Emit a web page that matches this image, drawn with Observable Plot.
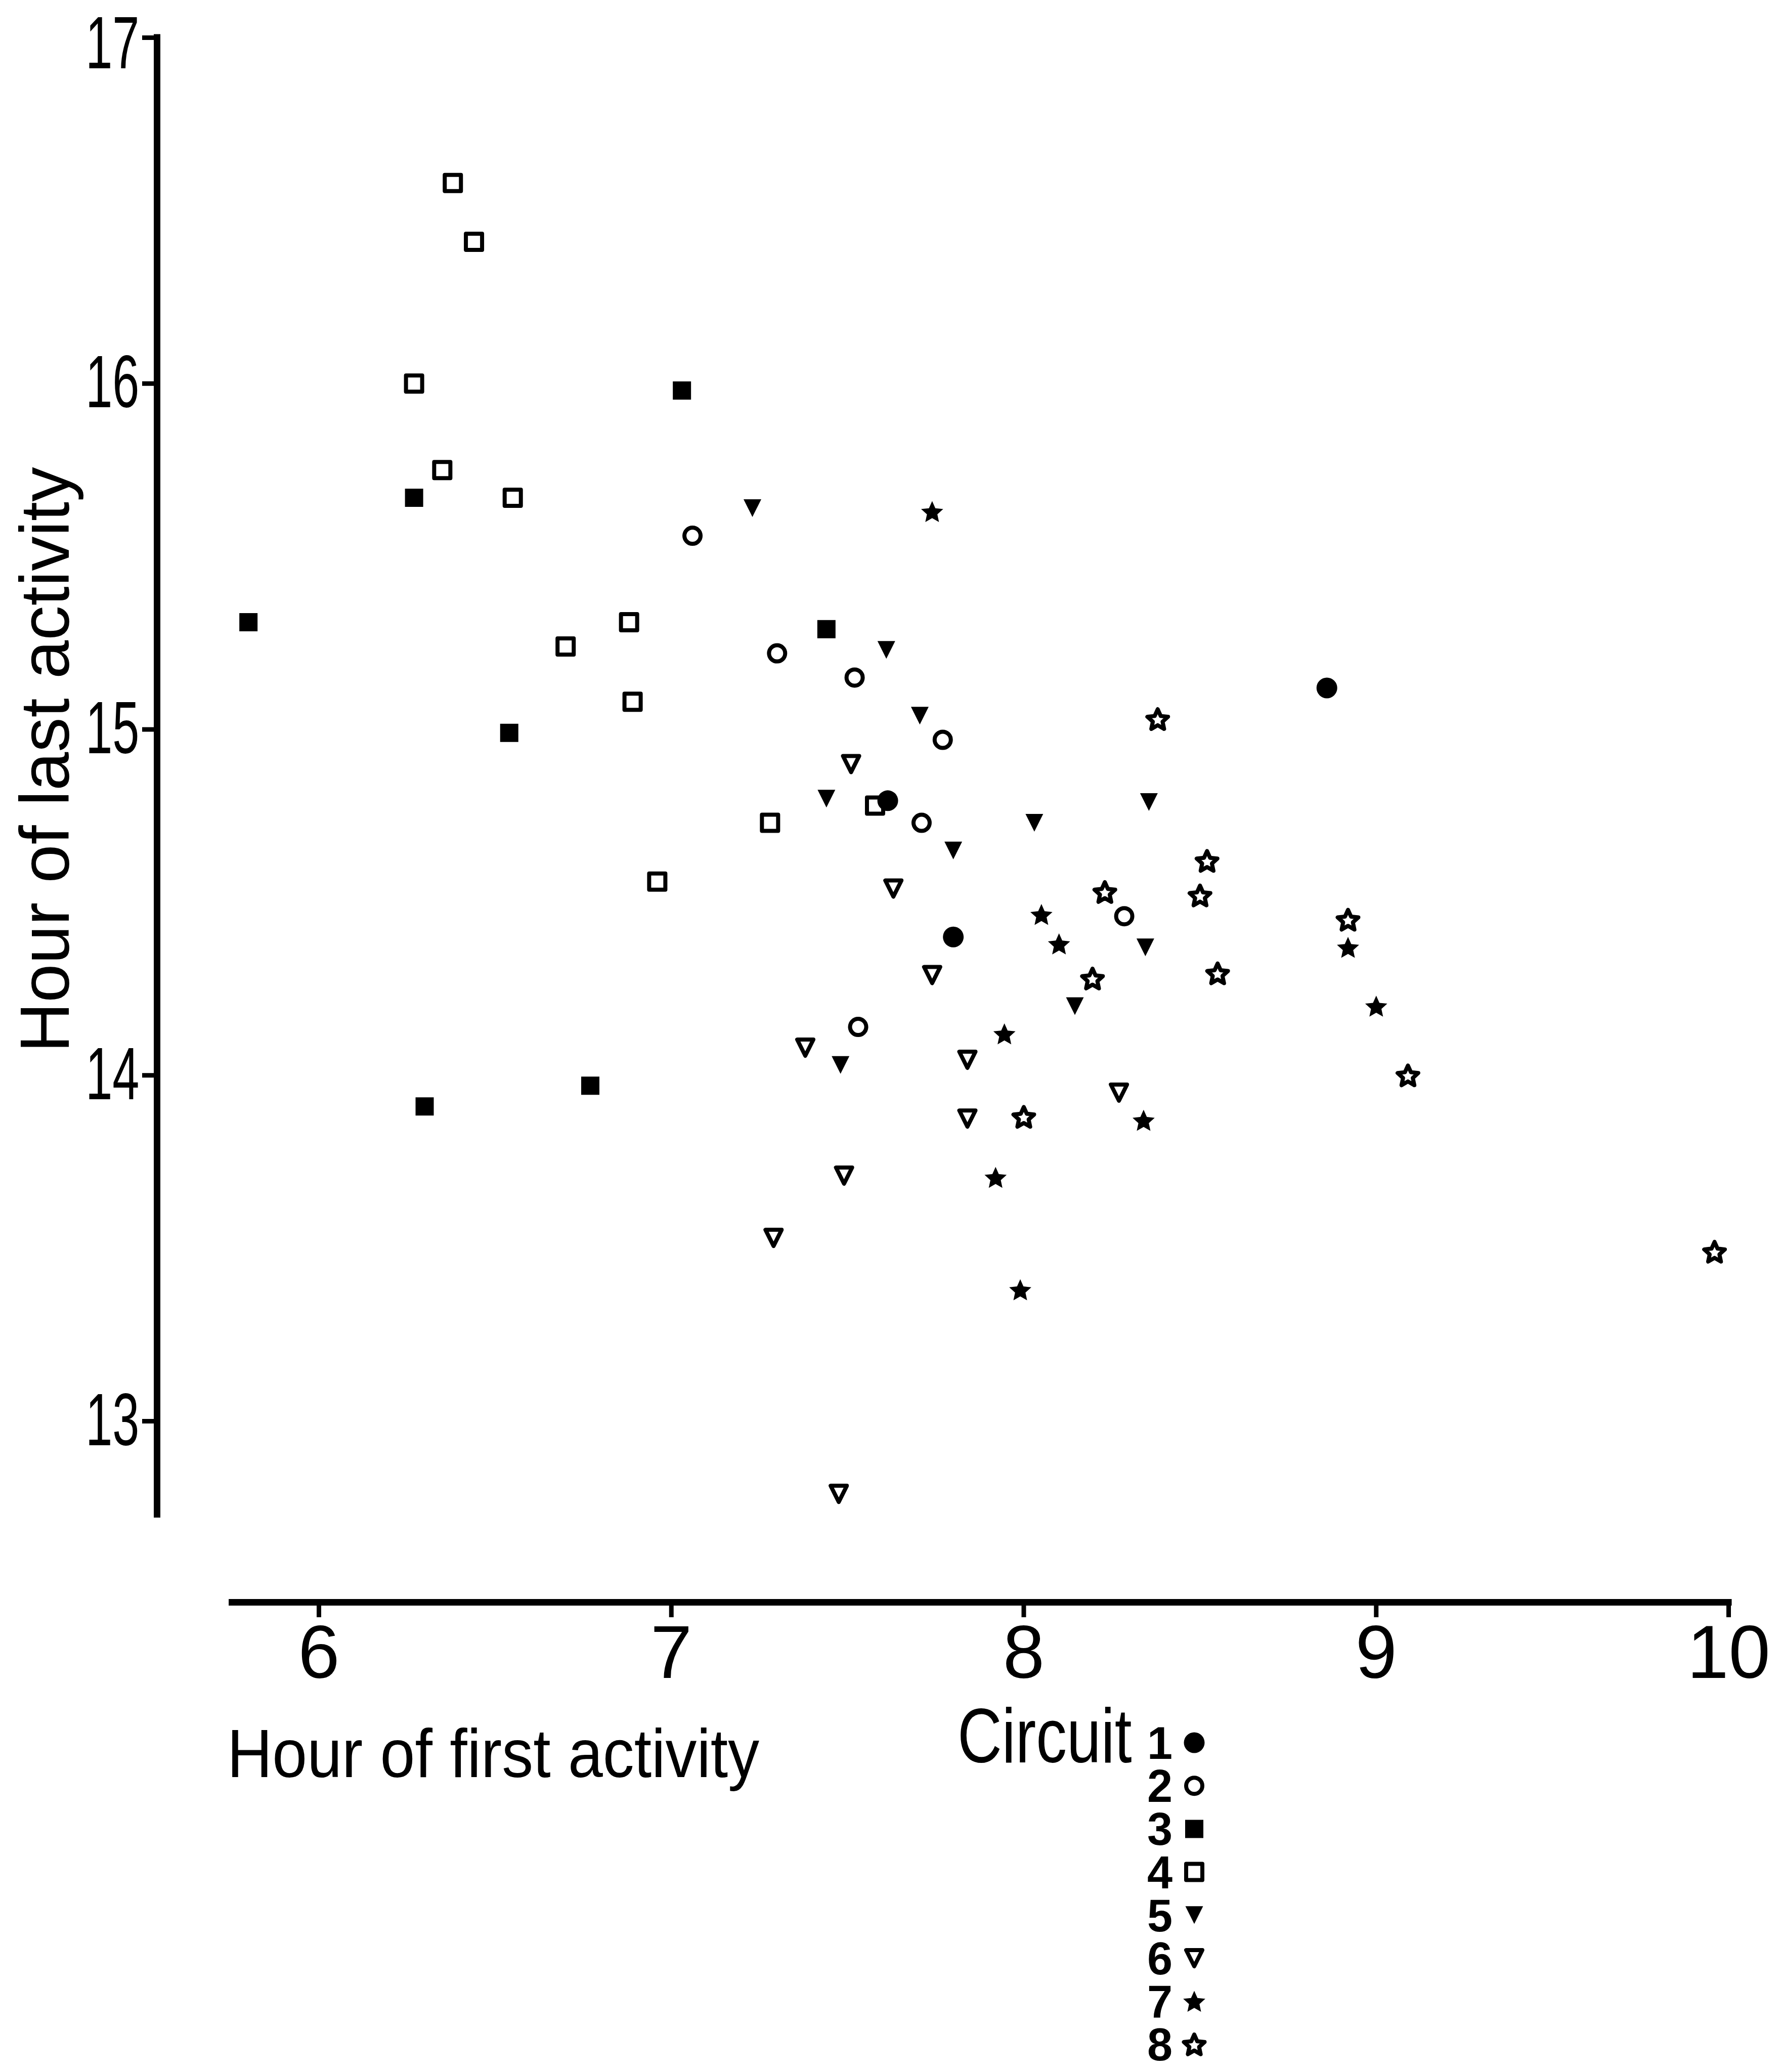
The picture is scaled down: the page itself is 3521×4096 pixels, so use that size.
<!DOCTYPE html>
<html><head><meta charset="utf-8">
<script src="https://cdn.jsdelivr.net/npm/d3@7"></script>
<script src="https://cdn.jsdelivr.net/npm/@observablehq/plot@0.6"></script>
<style>
html,body{margin:0;padding:0;background:#fff;overflow:hidden}
#chart{position:relative;width:3521px;height:4096px;background:#fff}
#chart svg{position:absolute;left:0;top:0}
</style></head><body><div id="chart"></div>
<script>
// ---- Data: [hour of first activity, hour of last activity] per circuit ----
const circuit1 = [[8.86,15.12],[7.80,14.40],[7.614,14.794]];
const circuit2 = [[7.06,15.56],[7.30,15.22],[7.52,15.15],[7.77,14.97],[7.71,14.73],[7.53,14.14],[8.285,14.46]];
const circuit3 = [[5.80,15.31],[6.27,15.67],[7.03,15.98],[6.54,14.99],[7.44,15.29],[6.30,13.91],[6.77,13.97]];
const circuit4 = [[6.38,16.58],[6.44,16.41],[6.27,16.00],[6.35,15.75],[6.55,15.67],[6.70,15.24],[6.88,15.31],[6.89,15.08],[7.28,14.73],[6.96,14.56],[7.578,14.78]];
const circuit5 = [[7.23,15.64],[7.61,15.23],[7.705,15.04],[7.44,14.80],[7.80,14.65],[8.03,14.73],[8.355,14.79],[8.345,14.37],[8.145,14.20],[7.48,14.03]];
const circuit6 = [[7.51,14.90],[7.63,14.54],[7.74,14.29],[7.38,14.08],[7.84,14.045],[7.84,13.875],[8.27,13.95],[7.49,13.71],[7.29,13.53],[7.475,12.79]];
const circuit7 = [[7.74,15.63],[8.05,14.465],[8.10,14.38],[7.945,14.12],[8.34,13.87],[7.92,13.705],[7.99,13.38],[8.92,14.37],[9.00,14.20]];
const circuit8 = [[8.38,15.03],[8.52,14.62],[8.50,14.52],[8.23,14.53],[8.195,14.28],[8.55,14.295],[8.00,13.88],[8.92,14.45],[9.09,14.00],[9.96,13.49]];
const circuitNames = ["1","2","3","4","5","6","7","8"];
const xTicks = [6,7,8,9,10];
const yTicks = [13,14,15,16,17];
const xAxisExtent = [5.754, 10];
const yAxisExtent = [12.73, 17];
const xTitle = "Hour of first activity";
const yTitle = "Hour of last activity";
const legendTitle = "Circuit";

// ---- Symbols ----
const radiusOf = s => Math.sqrt(s / Math.PI);
const symCircle = {draw(c, s){const r = radiusOf(s); c.moveTo(r, 0); c.arc(0, 0, r, 0, 2*Math.PI);}};
const symSquare = {draw(c, s){const r = radiusOf(s); c.rect(-r, -r, 2*r, 2*r);}};
const symTriDown = {draw(c, s){const r = radiusOf(s); c.moveTo(-r, -r); c.lineTo(r, -r); c.lineTo(0, r); c.closePath();}};
const symStar = {draw(c, s){
  const r = radiusOf(s), ri = r*0.47, off = r*0.095;
  for (let i = 0; i < 10; i++) {
    const a = -Math.PI/2 + i*Math.PI/5, rr = i % 2 ? ri : r;
    const px = rr*Math.cos(a), py = rr*Math.sin(a) + off;
    if (i) c.lineTo(px, py); else c.moveTo(px, py);
  }
  c.closePath();
}};
const styles = [
  {sym: symCircle, r: 20.5, filled: true},
  {sym: symCircle, r: 16, filled: false},
  {sym: symSquare, r: 18, filled: true},
  {sym: symSquare, r: 16, filled: false},
  {sym: symTriDown, r: 17.5, filled: true},
  {sym: symTriDown, r: 16, filled: false},
  {sym: symStar, r: 23, filled: true},
  {sym: symStar, r: 21.5, filled: false}
];
const openStroke = 8;

const series = [circuit1, circuit2, circuit3, circuit4, circuit5, circuit6, circuit7, circuit8];
const rows = series.flatMap((arr, i) => arr.map(([x, y]) => ({circuit: circuitNames[i], x, y})));

// ---- Layout (page px) ----
const W = 3521, H = 4096;
const xDomain = [6, 10], xRange = [630, 3417];
const yDomain = [13, 17], yRange = [2809, 74];
const frameLeft = 310, frameBottom = 3167;
const yAxisAt = xDomain[0] + (frameLeft - xRange[0]) / (xRange[1] - xRange[0]) * (xDomain[1] - xDomain[0]);
const xAxisAt = yDomain[0] + (frameBottom - yRange[0]) / (yRange[1] - yRange[0]) * (yDomain[1] - yDomain[0]);

const dotMarks = circuitNames.map((name, i) => {
  const st = styles[i];
  const data = rows.filter(d => d.circuit === name);
  return st.filled
    ? Plot.dot(data, {x: "x", y: "y", symbol: st.sym, r: st.r, fill: "black", stroke: "none"})
    : Plot.dot(data, {x: "x", y: "y", symbol: st.sym, r: st.r, fill: "none", stroke: "black", strokeWidth: openStroke, strokeLinejoin: "round"});
});

const chart = Plot.plot({
  width: W, height: H,
  marginLeft: frameLeft, marginBottom: H - frameBottom, marginTop: 20, marginRight: 20,
  style: {fontFamily: "'Liberation Sans', Arial, sans-serif", background: "white", color: "black"},
  x: {domain: xDomain, range: xRange},
  y: {domain: yDomain, range: yRange},
  marks: [
    Plot.ruleX([{x: yAxisAt, y1: yAxisExtent[0], y2: yAxisExtent[1]}], {x: "x", y1: "y1", y2: "y2", stroke: "black", strokeWidth: 13, strokeLinecap: "square"}),
    Plot.ruleY([{y: xAxisAt, x1: xAxisExtent[0], x2: xAxisExtent[1]}], {y: "y", x1: "x1", x2: "x2", stroke: "black", strokeWidth: 13, strokeLinecap: "square"}),
    Plot.axisY({ticks: yTicks, tickFormat: d => String(d), tickSize: 29, tickPadding: 6, fontSize: 147, strokeWidth: 9, label: null}),
    Plot.axisX({ticks: xTicks, tickFormat: d => String(d), tickSize: 30, tickPadding: 14, fontSize: 148, strokeWidth: 9, label: null}),
    ...dotMarks
  ]
});
document.getElementById("chart").appendChild(chart);

// condensed y tick labels (as in the plotter lettering); the top label sits a little lower
d3.select(chart).selectAll('g[aria-label="y-axis tick label"] text').each(function() {
  const shift = this.textContent === String(yTicks[yTicks.length - 1]) ? 13 : 0;
  const t = this.getAttribute("transform");
  if (t) this.setAttribute("transform", `${t} translate(0,${shift}) scale(0.65,1)`);
  else {
    const x = +this.getAttribute("x") || 0, y = +this.getAttribute("y") || 0;
    this.removeAttribute("x"); this.removeAttribute("y");
    this.setAttribute("transform", `translate(${x},${y + shift}) scale(0.65,1)`);
  }
});

// ---- Titles and legend ----
const ov = d3.create("svg").attr("width", W).attr("height", H)
  .style("font-family", "'Liberation Sans', Arial, sans-serif").style("pointer-events", "none");
ov.append("text").attr("transform", "translate(136,1502) rotate(-90)").attr("text-anchor", "middle")
  .attr("font-size", 137).attr("fill", "black").text(yTitle);
ov.append("text").attr("transform", "translate(449,3513) scale(0.91,1)")
  .attr("font-size", 136).attr("fill", "black").text(xTitle);
ov.append("text").attr("transform", "translate(1893,3484) scale(0.8,1)")
  .attr("font-size", 152).attr("fill", "black").text(legendTitle);
const legBase = 3477, legStep = 85.2;
circuitNames.forEach((name, i) => {
  const by = legBase + i*legStep;
  ov.append("text").attr("x", 2293).attr("y", by).attr("text-anchor", "middle")
    .attr("font-size", 90).attr("font-weight", "bold").attr("fill", "black").text(name);
  const st = styles[i];
  const p = d3.path(); st.sym.draw(p, st.r*st.r*Math.PI);
  const g = ov.append("path").attr("d", p.toString()).attr("transform", `translate(2361,${by - 32})`);
  if (st.filled) g.attr("fill", "black");
  else g.attr("fill", "none").attr("stroke", "black").attr("stroke-width", openStroke).attr("stroke-linejoin", "round");
});
document.getElementById("chart").appendChild(ov.node());
</script></body></html>
